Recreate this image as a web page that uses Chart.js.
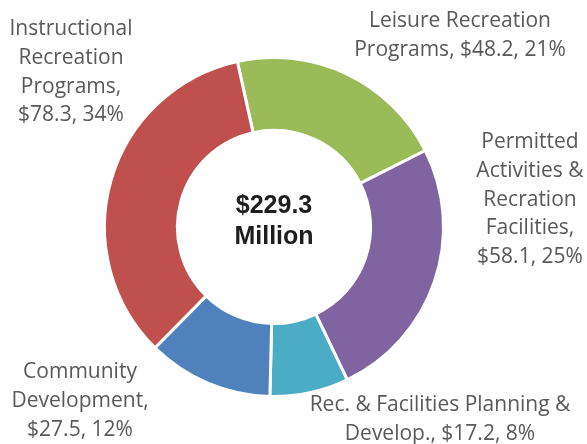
<!DOCTYPE html>
<html>
<head>
<meta charset="utf-8">
<script src="https://cdn.jsdelivr.net/npm/chart.js@4/dist/chart.umd.min.js"></script>
<style>
  html, body { margin: 0; padding: 0; background: #fff; }
  #wrap { width: 587px; height: 444px; position: relative; }
</style>
</head>
<body>
<div id="wrap"><canvas id="myChart" width="587" height="444"></canvas></div>
<script>
// chart data (USD millions)
const categories = [
    'Leisure Recreation Programs',
    'Permitted Activities & Recration Facilities',
    'Rec. & Facilities Planning & Develop.',
    'Community Development',
    'Instructional Recreation Programs'
];
const amounts = [48.2, 58.1, 17.2, 27.5, 78.3];
const percents = [21, 25, 8, 12, 34];
const totalText = ['$229.3', 'Million'];

// how each label is broken into lines in the picture
const labelLines = [
    ['Leisure Recreation', 'Programs, $48.2, 21%'],
    ['Permitted', 'Activities &', 'Recration', 'Facilities,', '$58.1, 25%'],
    ['Rec. & Facilities Planning &', 'Develop., $17.2, 8%'],
    ['Community', 'Development,', '$27.5, 12%'],
    ['Instructional', 'Recreation', 'Programs,', '$78.3, 34%']
];

const sliceColors = ['#9BBB59', '#8064A2', '#4BACC6', '#4F81BD', '#C0504D'];

// where each label block is centred (x, y of first line)
const labelAnchors = [
    [460, 21],
    [530, 142],
    [440, 405],
    [80, 372],
    [71, 29]
];

const labelPlugin = {
    id: 'sliceLabels',
    afterDraw(chart) {
        const ctx = chart.ctx;
        ctx.save();
        ctx.font = '21px "Open Sans"';
        ctx.fillStyle = '#595959';
        ctx.textAlign = 'center';
        ctx.textBaseline = 'middle';
        labelLines.forEach((lines, i) => {
            const [x, y] = labelAnchors[i];
            lines.forEach((line, j) => {
                ctx.fillText(line, x, y + j * 28.8);
            });
        });

        // total in the hole
        const arc = chart.getDatasetMeta(0).data[0];
        ctx.font = 'bold 25px "Liberation Sans", Arial';
        ctx.fillStyle = '#1e1e1e';
        ctx.fillText(totalText[0], arc.x, arc.y - 21);
        ctx.fillText(totalText[1], arc.x, arc.y + 10);
        ctx.restore();
    }
};

const ctx = document.getElementById('myChart').getContext('2d');
const myChart = new Chart(ctx, {
    type: 'doughnut',
    data: {
        labels: categories,
        datasets: [{
            data: amounts,
            backgroundColor: sliceColors,
            borderColor: '#ffffff',
            borderWidth: 3,
        }],
    },
    options: {
        responsive: false,
        animation: false,
        cutout: '57%',
        rotation: -12.5,
        layout: {
            padding: { top: 56, bottom: 46, left: 103, right: 142 },
        },
        plugins: {
            legend: { display: false },
            tooltip: { enabled: false },
        },
    },
    plugins: [labelPlugin],
});
</script>
</body>
</html>
